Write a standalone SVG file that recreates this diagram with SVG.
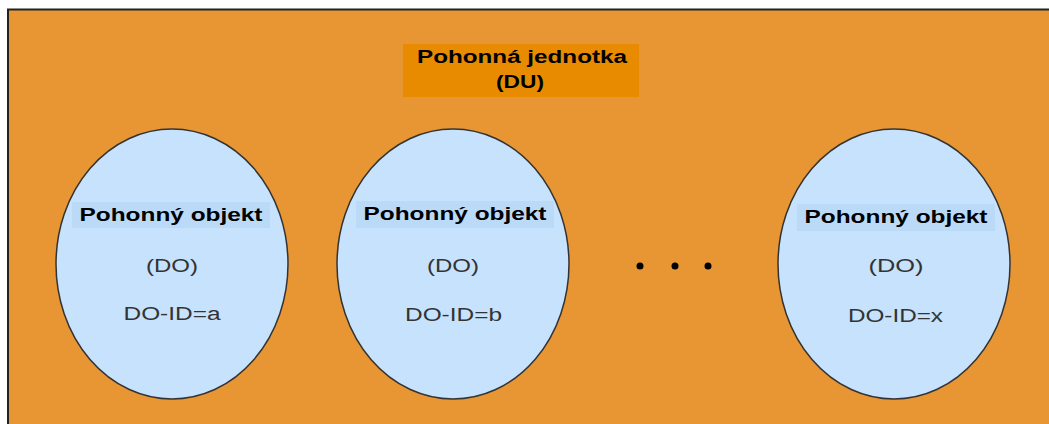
<svg xmlns="http://www.w3.org/2000/svg" width="1049" height="424" viewBox="0 0 1049 424">
  <style>
    .bg { fill: #E89634; }
    .frame { stroke: #222; stroke-width: 2; fill: none; }
    .du { fill: #E88B00; }
    .ell { fill: #C6E2FC; stroke: #333; stroke-width: 1.5; }
    .lbl { fill: #BBDAF8; }
    .b { font-family: "Liberation Sans", Arial, sans-serif; font-weight: bold; fill: #000; text-anchor: middle; }
    .r { font-family: "Liberation Sans", Arial, sans-serif; fill: #333; text-anchor: middle; }
    .dot { fill: #000; }
  </style>
  <rect x="0" y="0" width="1049" height="424" fill="#fff"/>
  <rect class="bg" x="7" y="9" width="1042" height="415"/>
  <path class="frame" d="M8 424 V9.5 H1049"/>

  <g id="du">
    <rect class="du" x="403" y="44" width="236" height="53"/>
    <text class="b" x="522" y="63" font-size="18" textLength="210" lengthAdjust="spacingAndGlyphs">Pohonná jednotka</text>
    <text class="b" x="520" y="88" font-size="18" textLength="48" lengthAdjust="spacingAndGlyphs">(DU)</text>
  </g>

  <g id="do-a">
    <ellipse class="ell" cx="172" cy="264" rx="116" ry="135"/>
    <rect class="lbl" x="72" y="202" width="198" height="26"/>
    <text class="b" x="171" y="221" font-size="18.5" textLength="183" lengthAdjust="spacingAndGlyphs">Pohonný objekt</text>
    <text class="r" x="172" y="272" font-size="19" textLength="52" lengthAdjust="spacingAndGlyphs">(DO)</text>
    <text class="r" x="172" y="320" font-size="18" textLength="97" lengthAdjust="spacingAndGlyphs">DO-ID=a</text>
  </g>

  <g id="do-b">
    <ellipse class="ell" cx="453" cy="264" rx="116" ry="135"/>
    <rect class="lbl" x="356" y="201" width="198" height="27"/>
    <text class="b" x="455" y="220" font-size="18.5" textLength="183" lengthAdjust="spacingAndGlyphs">Pohonný objekt</text>
    <text class="r" x="453" y="272" font-size="19" textLength="52" lengthAdjust="spacingAndGlyphs">(DO)</text>
    <text class="r" x="453.5" y="321" font-size="18" textLength="97" lengthAdjust="spacingAndGlyphs">DO-ID=b</text>
  </g>

  <g id="dots">
    <circle class="dot" cx="640" cy="266" r="3.5"/>
    <circle class="dot" cx="675" cy="266" r="3.5"/>
    <circle class="dot" cx="708" cy="266" r="3.5"/>
  </g>

  <g id="do-x">
    <ellipse class="ell" cx="894" cy="264" rx="116" ry="135"/>
    <rect class="lbl" x="797" y="204" width="198" height="27"/>
    <text class="b" x="896" y="223" font-size="18.5" textLength="183" lengthAdjust="spacingAndGlyphs">Pohonný objekt</text>
    <text class="r" x="896" y="272" font-size="19" textLength="55" lengthAdjust="spacingAndGlyphs">(DO)</text>
    <text class="r" x="895.5" y="322" font-size="18" textLength="95" lengthAdjust="spacingAndGlyphs">DO-ID=x</text>
  </g>

  <g id="connectors"/>
</svg>
